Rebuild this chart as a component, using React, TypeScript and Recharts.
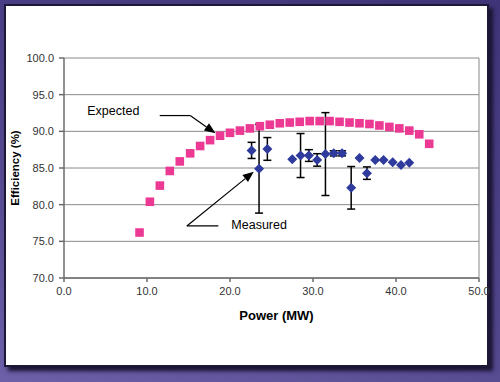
import React from 'react';
import {
  ScatterChart, Scatter, XAxis, YAxis, CartesianGrid, ErrorBar,
  ReferenceLine, ReferenceDot, Label,
} from 'recharts';

// ---- data ----
const expectedPower = [9.1, 10.35, 11.55, 12.75, 13.95, 15.2, 16.4, 17.6, 18.8, 20.0, 21.2, 22.4, 23.6, 24.8, 26.0, 27.2, 28.4, 29.6, 30.8, 32.0, 33.2, 34.4, 35.6, 36.8, 38.0, 39.2, 40.4, 41.6, 42.8, 44.0];
const expectedEff = [76.2, 80.4, 82.6, 84.6, 85.9, 87.0, 88.0, 88.8, 89.4, 89.8, 90.1, 90.4, 90.7, 90.9, 91.1, 91.2, 91.3, 91.4, 91.4, 91.4, 91.3, 91.2, 91.1, 91.0, 90.8, 90.6, 90.4, 90.1, 89.6, 88.3];

const measuredPower = [22.6, 23.5, 24.5, 27.5, 28.5, 29.5, 30.5, 31.5, 32.5, 33.5, 34.6, 35.6, 36.5, 37.5, 38.5, 39.6, 40.6, 41.6];
const measuredEff = [87.4, 84.9, 87.6, 86.2, 86.7, 86.7, 86.1, 86.9, 87.0, 87.0, 82.3, 86.35, 84.3, 86.1, 86.1, 85.8, 85.4, 85.7];
const measuredErr: (number | null)[] = [1.1, 6.05, 1.55, null, 3.0, 0.8, 0.85, 5.65, 0.35, 0.35, 2.9, null, 0.85, null, null, null, null, null];

const xTicks = [0, 10, 20, 30, 40, 50];
const yTicks = [70, 75, 80, 85, 90, 95, 100];

// annotations (data coordinates)
const expectedLabel = { text: 'Expected', x: 2.2, y: 92.8 };
const expectedLeader = [{ x: 11.53, y: 92.15 }, { x: 15.2, y: 92.15 }];
const expectedArrow = [{ x: 15.2, y: 92.15 }, { x: 18.25, y: 89.75 }];
const measuredLabel = { text: 'Measured', x: 19.56, y: 77.25 };
const measuredLeader = [{ x: 18.6, y: 77.1 }, { x: 14.8, y: 77.1 }];
const measuredArrow = [{ x: 14.8, y: 77.1 }, { x: 22.86, y: 84.5 }];

const expectedData = expectedPower.map((x, i) => ({ x, y: expectedEff[i] }));
const measuredData = measuredPower.map((x, i) => ({ x, y: measuredEff[i], err: measuredErr[i] }));

const FONT = '"Liberation Sans", Arial, sans-serif';
const PINK = '#EC3A94';
const BLUE = '#2E3A9C';

const Square = (props: any) => {
  const { cx, cy } = props;
  if (cx == null || cy == null) return null;
  return <rect x={cx - 4.3} y={cy - 4.3} width={8.6} height={8.6} fill={PINK} />;
};

const Diamond = (props: any) => {
  const { cx, cy } = props;
  if (cx == null || cy == null) return null;
  const r = 5;
  return <polygon points={`${cx},${cy - r} ${cx + r},${cy} ${cx},${cy + r} ${cx - r},${cy}`} fill={BLUE} />;
};

const ArrowLine = (props: any) => {
  const { x1, y1, x2, y2 } = props;
  if ([x1, y1, x2, y2].some((v) => v == null || isNaN(v))) return null;
  const ang = Math.atan2(y2 - y1, x2 - x1);
  const len = 11;
  const hw = 4.5;
  const bx = x2 - len * Math.cos(ang);
  const by = y2 - len * Math.sin(ang);
  const px = -Math.sin(ang) * hw;
  const py = Math.cos(ang) * hw;
  return (
    <g>
      <line x1={x1} y1={y1} x2={bx} y2={by} stroke="#000" strokeWidth={1.2} />
      <polygon points={`${x2},${y2} ${bx + px},${by + py} ${bx - px},${by - py}`} fill="#000" />
    </g>
  );
};

export default function App() {
  return (
    <div style={{ position: 'absolute', left: 0, top: 0, width: 500, height: 382, overflow: 'hidden',
      background: 'linear-gradient(20deg, #6d60a8 0%, #53478e 40%, #3f3478 100%)' }}>
      <div style={{ position: 'absolute', left: 4, top: 4, width: 481, height: 359, background: '#fff',
        border: '2px solid #1d1838', boxShadow: '4px 4px 4px #1a1430' }} />
      <div style={{ position: 'absolute', left: 0, top: 0 }}>
        <ScatterChart width={500} height={382} margin={{ top: 58, right: 21, bottom: 74, left: 0 }}
          style={{ fontFamily: FONT }}>
          <CartesianGrid vertical={false} stroke="#8a8a8a" strokeWidth={1} />
          <XAxis type="number" dataKey="x" domain={[0, 50]} ticks={xTicks} allowDataOverflow
            tickFormatter={(v: number) => v.toFixed(1)} tickSize={4} tickMargin={5}
            stroke="#6b6b6b" strokeWidth={1.5}
            tick={{ fill: '#333', fontSize: 11, fontFamily: FONT }}>
            <Label value="Power (MW)" position="bottom" offset={3} dx={5}
              style={{ fontWeight: 'bold', fontSize: 13, fill: '#000', fontFamily: FONT }} />
          </XAxis>
          <YAxis type="number" dataKey="y" domain={[70, 100]} ticks={yTicks} width={64} allowDataOverflow
            tickFormatter={(v: number) => v.toFixed(1)} tickSize={5} tickMargin={5}
            stroke="#6b6b6b" strokeWidth={1.5}
            tick={{ fill: '#333', fontSize: 11, fontFamily: FONT }}>
            <Label value="Efficiency (%)" angle={-90} position="center" dx={-17}
              style={{ fontWeight: 'bold', fontSize: 11.5, fill: '#000', fontFamily: FONT, textAnchor: 'middle' }} />
          </YAxis>
          <ReferenceLine x={50} stroke="#9a9a9a" strokeWidth={1.2} />
          <Scatter data={expectedData} shape={Square} isAnimationActive={false} />
          <Scatter data={measuredData} shape={Diamond} isAnimationActive={false}>
            <ErrorBar dataKey="err" direction="y" width={4} stroke="#000" strokeWidth={1.5} />
          </Scatter>
          <ReferenceLine segment={expectedLeader} stroke="#000" strokeWidth={1.2} />
          <ReferenceLine segment={expectedArrow} shape={ArrowLine} />
          <ReferenceLine segment={measuredLeader} stroke="#000" strokeWidth={1.2} />
          <ReferenceLine segment={measuredArrow} shape={ArrowLine} />
          <ReferenceDot x={expectedLabel.x} y={expectedLabel.y} r={0} stroke="none" fill="none"
            label={{ value: expectedLabel.text, position: 'right', fill: '#000', fontSize: 12.5, fontFamily: FONT }} />
          <ReferenceDot x={measuredLabel.x} y={measuredLabel.y} r={0} stroke="none" fill="none"
            label={{ value: measuredLabel.text, position: 'right', fill: '#000', fontSize: 12.5, fontFamily: FONT }} />
        </ScatterChart>
      </div>
    </div>
  );
}
